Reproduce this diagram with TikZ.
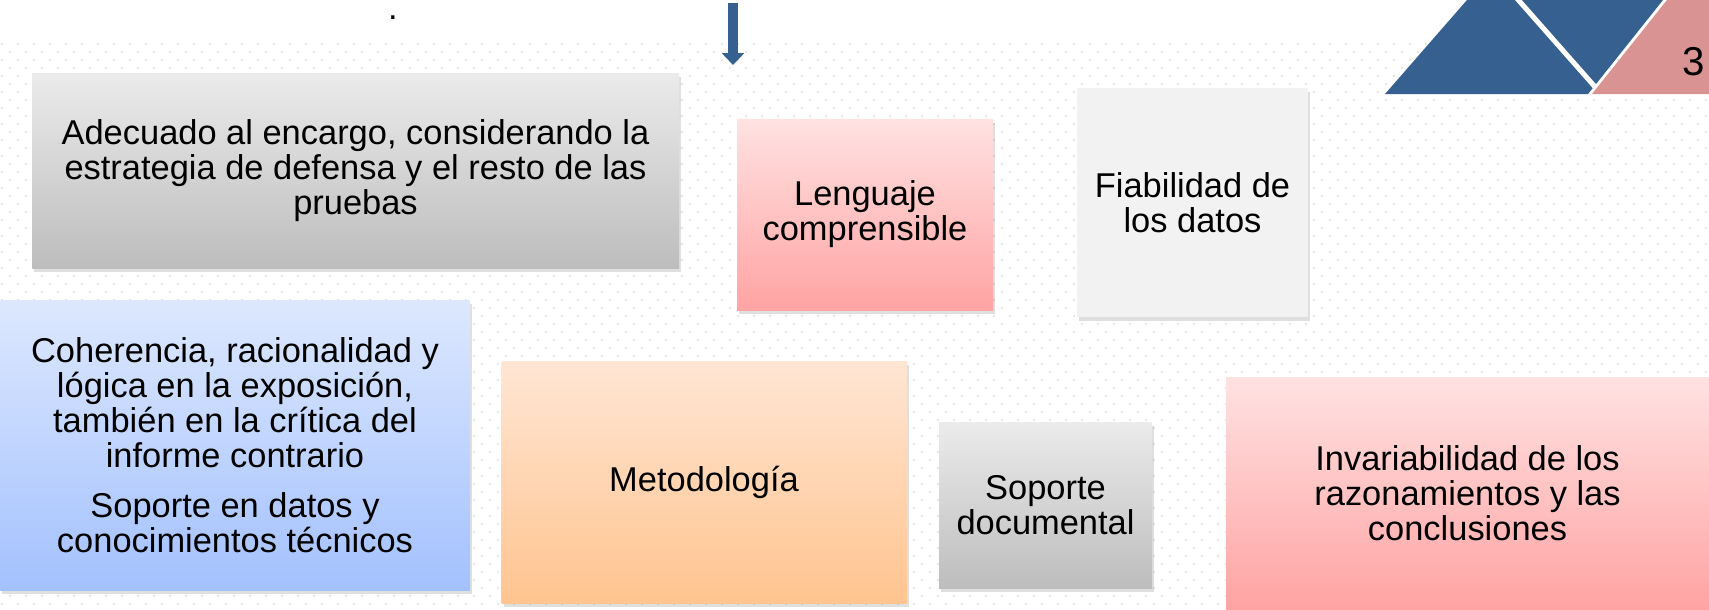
\documentclass[tikz,border=0pt]{standalone}
\usepackage{fontspec}
\setmainfont{Liberation Sans}
\usepackage{tikz}
\usetikzlibrary{shadows}
\usetikzlibrary{arrows.meta}

\definecolor{tanblue}{HTML}{36608F}
\definecolor{tanpink}{HTML}{D89392}
\definecolor{greytop}{HTML}{EBEBEB}
\definecolor{greybot}{HTML}{BDBDBD}
\definecolor{pinktop}{HTML}{FFE2E2}
\definecolor{pinkbot}{HTML}{FFA3A3}
\definecolor{bluetop}{HTML}{DDE8FE}
\definecolor{bluebot}{HTML}{A3C1FE}
\definecolor{peachtop}{HTML}{FFE6D4}
\definecolor{peachbot}{HTML}{FFC48F}
\definecolor{flatgrey}{HTML}{F2F2F2}

\begin{document}
\begin{tikzpicture}[x=0.02cm,y=-0.02cm,
  box/.style={draw=none,align=center,inner sep=0pt,
    font=\fontsize{19.6}{19.9}\selectfont,
    drop shadow={shadow xshift=0.04cm,shadow yshift=-0.07cm,opacity=0.25}},
  boxsize/.style 2 args={minimum width=#1*0.02cm,minimum height=#2*0.02cm},
  dotrow/.style={line width=0.04cm,draw=black!10,dash pattern=on 0.04cm off 0.28cm}]
\useasboundingbox (0,0) rectangle (1709,609);
\clip (0,0) rectangle (1709,609);
\fill[white] (0,0) rectangle (1709,609);
% dotted background
\foreach \yy in {44,60,...,604} \draw[dotrow] (1,\yy) -- (1709,\yy);
\foreach \yy in {52,68,...,608} \draw[dotrow] (9,\yy) -- (1709,\yy);
% corner triangles
\fill[tanblue] (1385,94) -- (1467,0) -- (1663,0) -- (1588,94) -- cycle;
\draw[white,line width=0.1cm] (1506,-14) -- (1596,88);
\fill[tanpink] (1667,0) -- (1709,0) -- (1709,94) -- (1592,94) -- cycle;
\node[font=\fontsize{22.9}{24}\selectfont] (pagenum) at (1693.5,61.5) {3};
% top marks
\node[anchor=base,inner sep=0pt,text height=0.1cm,text depth=0pt,
  font=\fontsize{19.6}{19.9}\selectfont] (dot) at (393,19) {.};
\coordinate (arrtop) at (733,3);
\coordinate (arrtip) at (733,65);
\draw[tanblue,line width=0.2cm,-{Triangle[length=0.24cm,width=0.44cm]}] (arrtop) -- (arrtip);
% boxes
\node[box,boxsize={647}{195},top color=greytop,bottom color=greybot] (encargo) at (355.5,170.5)
  {Adecuado al encargo, considerando la\\estrategia de defensa y el resto de las\\pruebas};
\node[box,boxsize={256}{191},top color=pinktop,bottom color=pinkbot] (lenguaje) at (865,214.5)
  {Lenguaje\\comprensible};
\node[box,boxsize={231}{229},fill=flatgrey] (fiabilidad) at (1192.5,202.5)
  {Fiabilidad de\\los datos};
\node[box,boxsize={470}{290},top color=bluetop,bottom color=bluebot] (coherencia) at (235,445)
  {Coherencia, racionalidad y\\l\'ogica en la exposici\'on,\\tambi\'en en la cr\'itica del\\informe contrario\\[8.5pt]
   Soporte en datos y\\conocimientos t\'ecnicos};
\node[box,boxsize={405}{242},top color=peachtop,bottom color=peachbot] (metodo) at (704,482)
  {Metodolog\'ia};
\node[box,boxsize={213}{166},top color=greytop,bottom color=greybot] (soporte) at (1045.5,505)
  {Soporte\\documental};
\node[box,boxsize={483}{232},top color=pinktop,bottom color=pinkbot] (invariab) at (1467.5,493)
  {Invariabilidad de los\\razonamientos y las\\conclusiones};
\end{tikzpicture}
\end{document}
